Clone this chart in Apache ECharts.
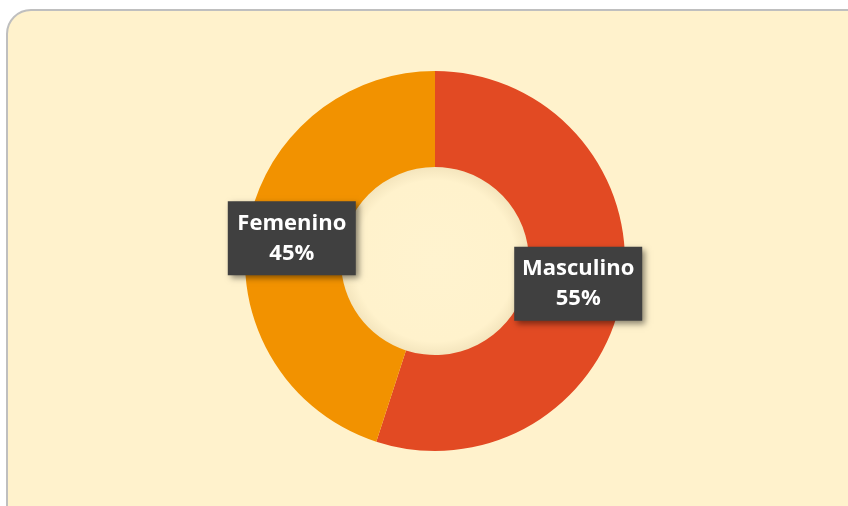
<!DOCTYPE html>
<html>
<head>
<meta charset="utf-8">
<script src="https://cdn.jsdelivr.net/npm/echarts@6/dist/echarts.min.js"></script>
<style>
  html, body { margin: 0; padding: 0; background: #ffffff; }
  #chart { width: 848px; height: 506px; }
</style>
</head>
<body>
<div id="chart"></div>
<script>
// 数据
const categories = ['Masculino', 'Femenino'];
const values = [55, 45];
const colors = ['#E24A23', '#F29200'];

const chart = echarts.init(document.getElementById('chart'));

const option = {
    animation: false,
    graphic: [
        {
            type: 'rect',
            shape: { x: 7, y: 10, width: 880, height: 540, r: 24 },
            style: { fill: '#FFF2CC', stroke: '#BFBFBF', lineWidth: 2 },
            z: -10
        },
        // 中间空心的淡阴影
        {
            type: 'circle',
            shape: { cx: 435, cy: 261, r: 95 },
            style: {
                fill: new echarts.graphic.RadialGradient(0.5, 0.5, 0.5, [
                    { offset: 0, color: '#FFF3CF' },
                    { offset: 0.85, color: '#FFF2CC' },
                    { offset: 1, color: '#F3E4BC' }
                ])
            },
            z: -5
        }
    ],
    series: [
        {
            type: 'pie',
            center: [435, 261],
            radius: [94, 190],
            startAngle: 90,
            clockwise: true,
            label: {
                show: true,
                position: 'inside',
                formatter: '{b}\n{d}%',
                color: '#ffffff',
                fontFamily: 'Open Sans',
                fontWeight: 'bold',
                fontSize: 22,
                lineHeight: 30,
                width: 114,
                align: 'center',
                padding: [7, 7],
                backgroundColor: '#404040',
                shadowBlur: 6,
                shadowOffsetX: 3,
                shadowOffsetY: 3,
                shadowColor: 'rgba(0,0,0,0.45)'
            },
            labelLine: { show: false },
            emphasis: { disabled: true },
            data: categories.map((name, i) => ({
                name: name,
                value: values[i],
                itemStyle: { color: colors[i] }
            }))
        }
    ]
};

chart.setOption(option);
</script>
</body>
</html>
